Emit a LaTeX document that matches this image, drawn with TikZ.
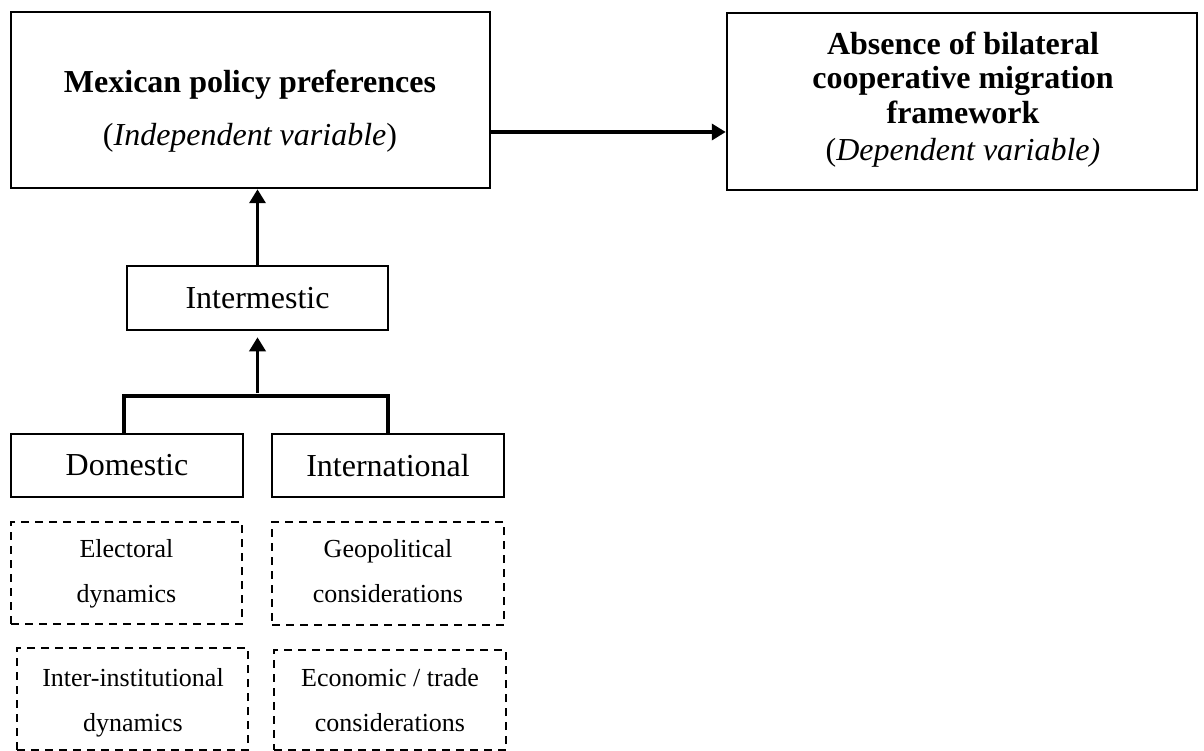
\documentclass[tikz,border=0pt]{standalone}
\usepackage{fontspec}
\setmainfont{Liberation Serif}
\usetikzlibrary{arrows.meta,calc}
\begin{document}
\begin{tikzpicture}[x=1pt,y=-1pt,
  solidbox/.style={draw,line width=2.5pt,inner sep=0pt},
  dashbox/.style={draw,line width=2.5pt,dash pattern=on 8pt off 6pt,inner sep=0pt},
  bigfont/.style={font=\fontsize{32}{38}\selectfont},
  smallfont/.style={font=\fontsize{26}{45}\selectfont,align=center,inner sep=0pt,anchor=north},
  arr/.style={line width=3.5pt,-{Triangle[length=14pt,width=16pt]}},
  brk/.style={line width=3.5pt}]
\useasboundingbox (0,0) rectangle (1204,751);

% main boxes
\node[solidbox,minimum width=479pt,minimum height=176pt] (a) at (250.5,100) {};
\node[solidbox,minimum width=470pt,minimum height=177pt] (b) at (962,101.5) {};
\node[font=\fontsize{32}{53}\selectfont,align=center,inner sep=0pt,anchor=north] (at) at (250,70)
  {\textbf{Mexican policy preferences}\\(\textit{Independent variable})};
\node[font=\fontsize{32}{34.5}\selectfont,align=center,inner sep=0pt,anchor=north] (bt) at (963,31.5)
  {\textbf{Absence of bilateral}\\\textbf{cooperative migration}\\\textbf{framework}\\[3pt](\textit{Dependent variable)}};

% middle level
\node[solidbox,bigfont,minimum width=261pt,minimum height=64pt] (im) at (257.5,298) {Intermestic};
\node[solidbox,bigfont,minimum width=232pt,minimum height=63pt] (dom) at (127,465.5) {Domestic};
\node[solidbox,bigfont,minimum width=232pt,minimum height=63pt] (intl) at (388,465.5) {International};

% dashed boxes
\node[dashbox,minimum width=231pt,minimum height=102pt] (el) at (126.5,573) {};
\node[dashbox,minimum width=232pt,minimum height=103pt] (geo) at (388,573.5) {};
\node[dashbox,minimum width=231pt,minimum height=102pt] (ii) at (132.5,699) {};
\node[dashbox,minimum width=232pt,minimum height=100pt] (eco) at (390,700) {};
\node[smallfont] (elt) at (126.5,539.3) {Electoral\\dynamics};
\node[smallfont] (geot) at (388,539.3) {Geopolitical\\considerations};
\node[smallfont] (iit) at (133,668.3) {Inter-institutional\\dynamics};
\node[smallfont] (ecot) at (390,668.3) {Economic / trade\\considerations};

% connectors
\draw[arr] ([yshift=-32pt]a.east) -- ([yshift=-32pt]a.east -| b.west);
\draw[arr] (im.north) -- (im.north |- a.south);
\coordinate (br) at (257.5,396);
\draw[brk] ([xshift=-3pt]dom.north) -- ([xshift=-3pt]dom.north |- br) -- (intl.north |- br) -- (intl.north);
\draw[arr] ([yshift=3pt]br) -- ([yshift=-6pt]im.south);
\end{tikzpicture}
\end{document}
